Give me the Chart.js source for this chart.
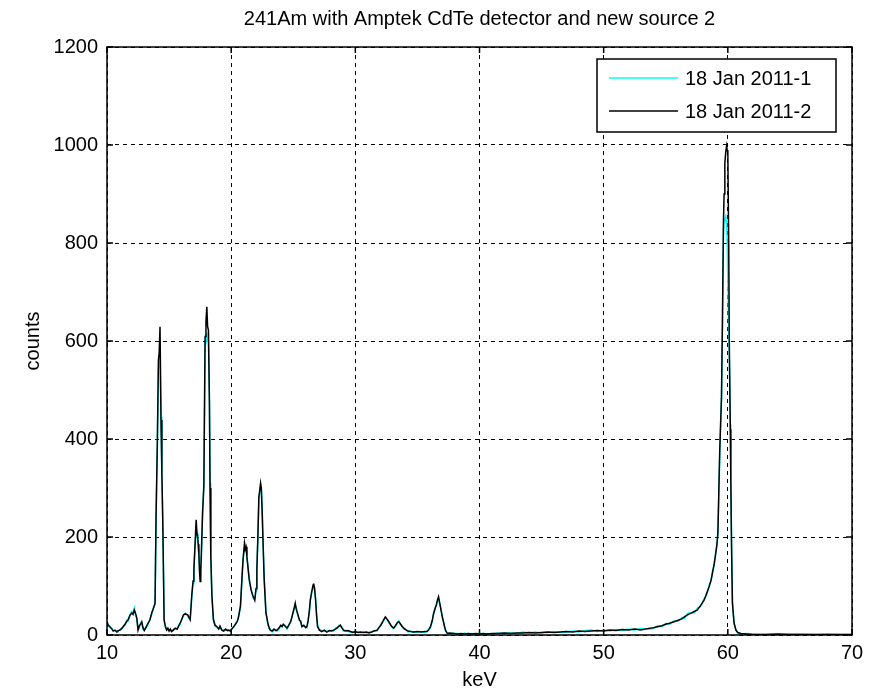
<!DOCTYPE html>
<html>
<head>
<meta charset="utf-8">
<script src="https://cdn.jsdelivr.net/npm/chart.js@4"></script>
<style>
html,body{margin:0;padding:0;background:#fff;}
canvas{display:block;}
</style>
</head>
<body>
<canvas id="c" width="874" height="695"></canvas>
<script>
const chartTitle = '241Am with Amptek CdTe detector and new source 2';
const xTitle = 'keV';
const yTitle = 'counts';
const seriesNames = ['18 Jan 2011-1', '18 Jan 2011-2'];
const xTicks = [10, 20, 30, 40, 50, 60, 70];
const yTicks = [0, 200, 400, 600, 800, 1000, 1200];

const keV = [
 10.0,10.1,10.24,10.4,10.5,10.65,10.8,10.9,11.05,11.2,
 11.3,11.45,11.6,11.7,11.85,12.0,12.1,12.2,12.3,12.4,
 12.5,12.6,12.7,12.8,12.9,13.0,13.1,13.2,13.3,13.45,
 13.6,13.75,13.87,13.95,14.06,14.14,14.2,14.27,14.35,14.42,
 14.49,14.6,14.7,14.8,14.9,15.0,15.1,15.2,15.35,15.5,
 15.65,15.75,15.9,16.0,16.15,16.3,16.5,16.6,16.7,16.83,
 16.93,17.0,17.1,17.18,17.25,17.3,17.35,17.4,17.45,17.5,
 17.55,17.6,17.7,17.8,17.9,17.97,18.04,18.1,18.17,18.25,
 18.3,18.36,18.45,18.57,18.7,18.85,19.0,19.1,19.25,19.4,
 19.55,19.7,19.8,19.95,20.05,20.2,20.35,20.5,20.6,20.75,
 20.86,20.95,21.07,21.13,21.2,21.27,21.35,21.45,21.6,21.75,
 21.9,22.0,22.07,22.15,22.23,22.3,22.37,22.43,22.5,22.58,
 22.66,22.8,22.95,23.05,23.15,23.3,23.45,23.6,23.7,23.85,
 24.0,24.1,24.2,24.35,24.5,24.65,24.8,24.9,25.0,25.1,
 25.16,25.25,25.35,25.5,25.6,25.7,25.85,26.0,26.1,26.2,
 26.3,26.37,26.5,26.6,26.64,26.72,26.8,26.88,26.96,27.1,
 27.3,27.5,27.7,27.9,28.1,28.25,28.4,28.55,28.7,28.8,
 28.9,29.06,29.2,29.4,29.6,29.8,30.0,30.2,30.4,30.67,
 30.9,31.1,31.3,31.5,31.75,31.9,32.05,32.15,32.3,32.42,
 32.55,32.7,32.85,33.0,33.1,33.25,33.4,33.5,33.6,33.75,
 33.9,34.1,34.25,34.44,34.7,35.0,35.3,35.6,35.78,35.9,
 36.05,36.2,36.3,36.43,36.53,36.6,36.7,36.8,36.9,37.0,
 37.12,37.25,37.4,37.6,37.9,38.2,38.5,38.8,39.1,39.4,
 39.7,40.0,40.3,40.6,41.0,41.5,42.0,42.5,43.0,43.5,
 44.0,44.5,45.0,45.5,46.0,46.5,47.0,47.5,48.0,48.5,
 49.0,49.5,50.0,50.5,51.0,51.5,52.0,52.5,53.0,53.5,
 54.0,54.33,54.7,55.0,55.3,55.67,56.0,56.3,56.5,56.75,
 57.0,57.3,57.55,57.8,58.09,58.3,58.5,58.65,58.76,58.9,
 59.03,59.12,59.2,59.28,59.35,59.42,59.49,59.57,59.65,59.7,
 59.76,59.83,59.9,59.95,60.0,60.07,60.13,60.2,60.24,60.3,
 60.37,60.5,60.65,60.8,61.05,61.5,62,63,64,65,
 66,67,68,69,70
];

// 18 Jan 2011-1 (cyan)
const counts1 = [
 25,22,15,13,10,8,8,7,11,12,
 18,20,30,28,42,48,45,55,40,32,
 12,15,25,24,12,11,12,20,22,32,
 42,58,62,230,410,540,560,565,445,320,
 240,28,15,12,10,10,9,9,12,12,
 14,20,22,32,38,45,40,34,33,78,
 105,140,185,205,210,195,175,160,135,120,
 125,160,255,310,595,612,615,600,600,480,
 310,165,75,35,18,15,14,15,12,10,
 10,11,8,10,14,15,24,30,40,55,
 108,155,180,185,172,155,142,110,95,76,
 74,90,140,195,275,290,300,295,255,175,
 118,48,22,14,12,6,10,11,8,12,
 18,19,20,20,12,22,26,40,45,55,
 60,55,42,32,25,18,18,17,15,28,
 48,68,88,95,98,92,75,42,20,12,
 9,8,8,7,10,8,14,13,20,18,
 17,8,10,7,6,7,5,6,4,6,
 4,6,5,9,8,14,22,26,30,35,
 34,25,22,14,15,18,24,29,22,20,
 12,11,6,8,5,6,7,5,8,12,
 15,28,42,52,64,68,72,62,54,36,
 26,12,4,2,4,3,1,4,2,3,
 2,4,2,3,2,4,3,5,3,6,
 4,6,4,5,7,5,6,8,6,9,
 10,7,10,8,11,9,12,10,13,11,
 13,19,17,24,22,29,28,36,34,44,
 46,45,55,58,74,82,102,110,130,142,
 170,182,212,290,370,440,480,640,830,845,
 850,855,840,800,720,610,560,430,320,185,
 68,22,12,4,2,3,2,1,1,2,
 2,1,2,1,1
];

// 18 Jan 2011-2 (black)
const counts2 = [
 27,20,17,12,8,10,6,9,10,14,
 17,22,28,31,40,45,42,51,44,35,
 10,18,22,27,15,9,14,18,24,30,
 45,55,65,241,398,561,575,629,439,330,
 235,31,18,10,14,8,12,7,10,14,
 12,17,25,30,41,43,41,36,31,82,
 110,133,190,235,205,200,185,167,130,109,
 130,167,250,303,609,640,670,630,622,473,
 300,160,80,31,20,17,12,18,10,8,
 12,9,10,8,12,17,22,28,37,60,
 112,150,187,175,180,160,139,115,92,80,
 71,95,133,200,282,295,310,300,248,180,
 112,45,25,15,10,8,12,9,10,14,
 20,17,22,18,14,20,28,37,48,58,
 65,52,44,30,28,17,20,15,17,30,
 50,71,90,102,105,95,71,40,17,10,
 7,10,6,9,8,10,12,15,18,20,
 15,10,8,9,7,5,7,5,6,5,
 6,4,6,8,10,15,20,24,32,37,
 32,27,20,16,14,20,26,27,24,18,
 14,10,8,7,6,7,6,7,7,10,
 17,30,44,55,61,70,78,65,51,38,
 24,10,3,4,3,2,3,2,3,2,
 3,2,3,2,3,3,4,3,4,4,
 5,4,5,6,5,6,7,6,8,7,
 8,9,8,10,9,11,10,12,10,13,
 15,17,19,22,24,27,30,33,37,41,
 44,48,51,60,71,85,99,112,126,145,
 167,185,208,300,378,430,486,650,847,900,
 963,985,998,990,985,800,568,420,316,180,
 65,25,10,5,3,2,1,1,2,1,
 1,1,1,1,1
];

const FONT = '"Liberation Sans", Arial, Helvetica, sans-serif';

const framePlugin = {
  id: 'matlabFrame',
  afterDraw(chart) {
    const ctx = chart.ctx;
    const a = chart.chartArea;
    const xs = chart.scales.x, ys = chart.scales.y;
    ctx.save();
    ctx.strokeStyle = '#000';
    ctx.lineWidth = 1.5;
    ctx.setLineDash([]);
    ctx.strokeRect(a.left, a.top, a.right - a.left, a.bottom - a.top);
    const tl = 6;
    ctx.beginPath();
    xTicks.forEach(v => {
      const px = xs.getPixelForValue(v);
      ctx.moveTo(px, a.bottom); ctx.lineTo(px, a.bottom - tl);
      ctx.moveTo(px, a.top); ctx.lineTo(px, a.top + tl);
    });
    yTicks.forEach(v => {
      const py = ys.getPixelForValue(v);
      ctx.moveTo(a.left, py); ctx.lineTo(a.left + tl, py);
      ctx.moveTo(a.right, py); ctx.lineTo(a.right - tl, py);
    });
    ctx.stroke();
    ctx.fillStyle = '#000';
    ctx.font = '20px ' + FONT;
    ctx.textAlign = 'center';
    ctx.textBaseline = 'middle';
    ctx.fillText(chartTitle, (a.left + a.right) / 2, 19);
    const bx = 597, by = 59, bw = 239, bh = 73;
    ctx.fillStyle = '#fff';
    ctx.fillRect(bx, by, bw, bh);
    ctx.lineWidth = 1.5;
    ctx.strokeStyle = '#000';
    ctx.strokeRect(bx, by, bw, bh);
    const rows = [78, 111];
    chart.data.datasets.forEach((ds, i) => {
      const y = rows[i];
      ctx.strokeStyle = ds.borderColor;
      ctx.lineWidth = 1.5;
      ctx.beginPath();
      ctx.moveTo(bx + 12, y); ctx.lineTo(bx + 81, y);
      ctx.stroke();
      ctx.fillStyle = '#000';
      ctx.textAlign = 'left';
      ctx.textBaseline = 'middle';
      ctx.fillText(ds.label, bx + 88, y + 1);
    });
    ctx.restore();
  }
};

function pts(ys) { return keV.map((x, i) => ({x: x, y: ys[i]})); }

new Chart(document.getElementById('c'), {
  type: 'scatter',
  data: {
    datasets: [
      { label: seriesNames[0], data: pts(counts1), showLine: true, borderColor: '#00ffff',
        backgroundColor: '#00ffff', borderWidth: 1.5, pointRadius: 0, tension: 0, order: 1 },
      { label: seriesNames[1], data: pts(counts2), showLine: true, borderColor: '#000000',
        backgroundColor: '#000000', borderWidth: 1.5, pointRadius: 0, tension: 0, order: 0 }
    ]
  },
  options: {
    responsive: false,
    animation: false,
    devicePixelRatio: 1,
    layout: { padding: { top: 47, right: 22, bottom: 0, left: 0 } },
    plugins: { legend: { display: false }, tooltip: { enabled: false }, title: { display: false } },
    scales: {
      x: {
        type: 'linear', min: 10, max: 70,
        afterFit(s) { s.height = 60; },
        afterBuildTicks(s) { s.ticks = xTicks.map(v => ({value: v})); },
        ticks: { color: '#000', font: { family: FONT, size: 20 }, padding: 6, maxRotation: 0,
                 callback: v => String(v) },
        grid: { color: '#000', lineWidth: 1, drawTicks: false },
        border: { display: false, dash: [4, 4] },
        title: { display: true, text: xTitle, color: '#000', font: { family: FONT, size: 20 }, padding: { top: 0, bottom: 3 } }
      },
      y: {
        type: 'linear', min: 0, max: 1200,
        afterFit(s) { s.width = 107; },
        afterBuildTicks(s) { s.ticks = yTicks.map(v => ({value: v})); },
        ticks: { color: '#000', font: { family: FONT, size: 20 }, padding: 9,
                 callback: v => String(v) },
        grid: { color: '#000', lineWidth: 1, drawTicks: false },
        border: { display: false, dash: [4, 4] },
        title: { display: true, text: yTitle, color: '#000', font: { family: FONT, size: 20 }, padding: { top: 21, bottom: 0 } }
      }
    }
  },
  plugins: [framePlugin]
});
</script>
</body>
</html>
